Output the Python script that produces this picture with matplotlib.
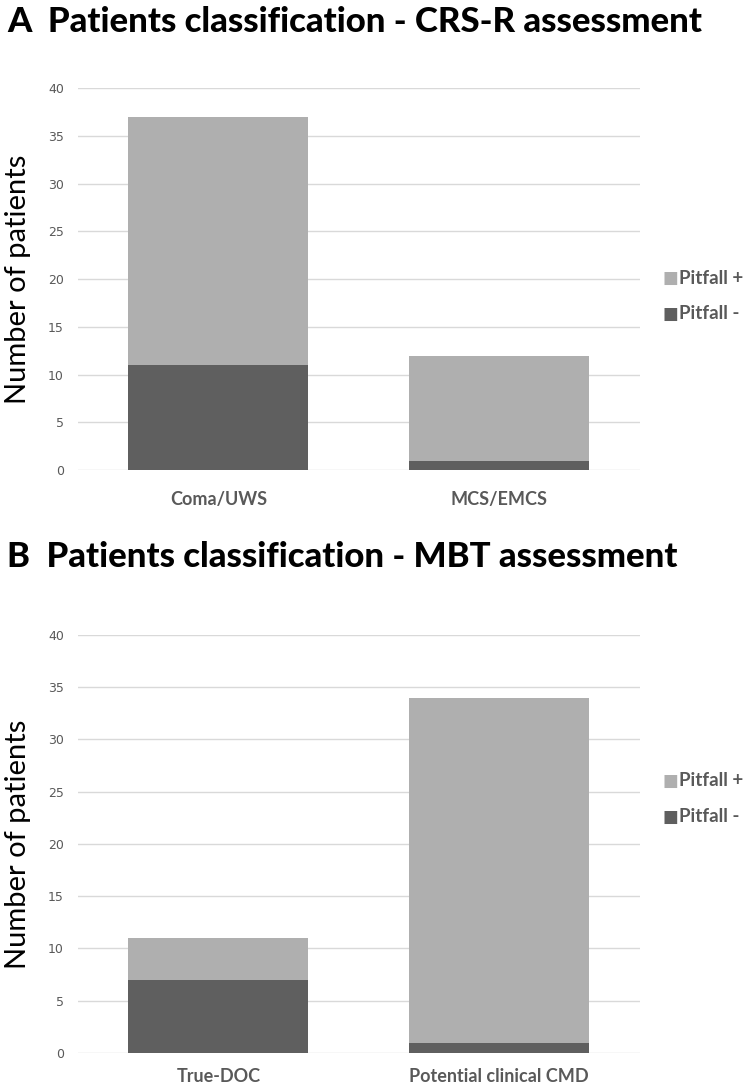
import numpy as np
import matplotlib.pyplot as plt

# data
cats_a = ['Coma/UWS', 'MCS/EMCS']
minus_a = [11, 1]
plus_a = [26, 11]

cats_b = ['True-DOC', 'Potential clinical CMD']
minus_b = [7, 1]
plus_b = [4, 33]

yticks = [0, 5, 10, 15, 20, 25, 30, 35, 40]

c_plus = '#afafaf'
c_minus = '#5f5f5f'
c_grid = '#d9d9d9'
c_text = '#595959'

plt.rcParams['font.family'] = ['Lato', 'DejaVu Sans']

fig = plt.figure(figsize=(7.49, 10.86), dpi=100)

def panel(rect, cats, minus, plus, title, title_y, leg_y, xpad):
    ax = fig.add_axes(rect)
    x = np.arange(len(cats))
    ax.bar(x, minus, width=0.64, color=c_minus, zorder=3)
    ax.bar(x, plus, width=0.64, bottom=minus, color=c_plus, zorder=3)
    ax.set_xlim(-0.5, len(cats) - 0.5)
    ax.set_ylim(0, 40)
    ax.set_yticks(yticks)
    ax.set_yticklabels([str(v) for v in yticks], fontsize=9, color=c_text,
                       family=['Liberation Sans Narrow', 'DejaVu Sans'])
    ax.set_xticks(x)
    ax.set_xticklabels(cats, fontsize=13, fontweight='bold', color=c_text)
    ax.tick_params(length=0, pad=10)
    ax.tick_params(axis='x', pad=xpad)
    ax.yaxis.grid(True, color=c_grid, linewidth=1, zorder=0)
    for s in ax.spines.values():
        s.set_visible(False)
    ax.set_ylabel('Number of patients', fontsize=21, color='black', labelpad=12)
    fig.text(0.01, title_y, title, fontsize=25, fontweight='black', va='center', ha='left')
    # legend
    fig.text(0.884, leg_y, '\u25a0', fontsize=12, color=c_plus, va='center', ha='left')
    fig.text(0.906, leg_y, 'Pitfall +', fontsize=13.5, fontweight='bold', color=c_text, va='center', ha='left')
    fig.text(0.884, leg_y - 0.033, '\u25a0', fontsize=12, color=c_minus, va='center', ha='left')
    fig.text(0.906, leg_y - 0.033, 'Pitfall -', fontsize=13.5, fontweight='bold', color=c_text, va='center', ha='left')
    return ax

panel([0.104, 0.567, 0.75, 0.352], cats_a, minus_a, plus_a,
      'A  Patients classification - CRS-R assessment', 1 - 22 / 1086, 1 - 278 / 1086, 15)
panel([0.104, 0.0304, 0.75, 0.385], cats_b, minus_b, plus_b,
      'B  Patients classification - MBT assessment', 1 - 557 / 1086, 1 - 781 / 1086, 11)

fig.savefig('out.png', dpi=100)
